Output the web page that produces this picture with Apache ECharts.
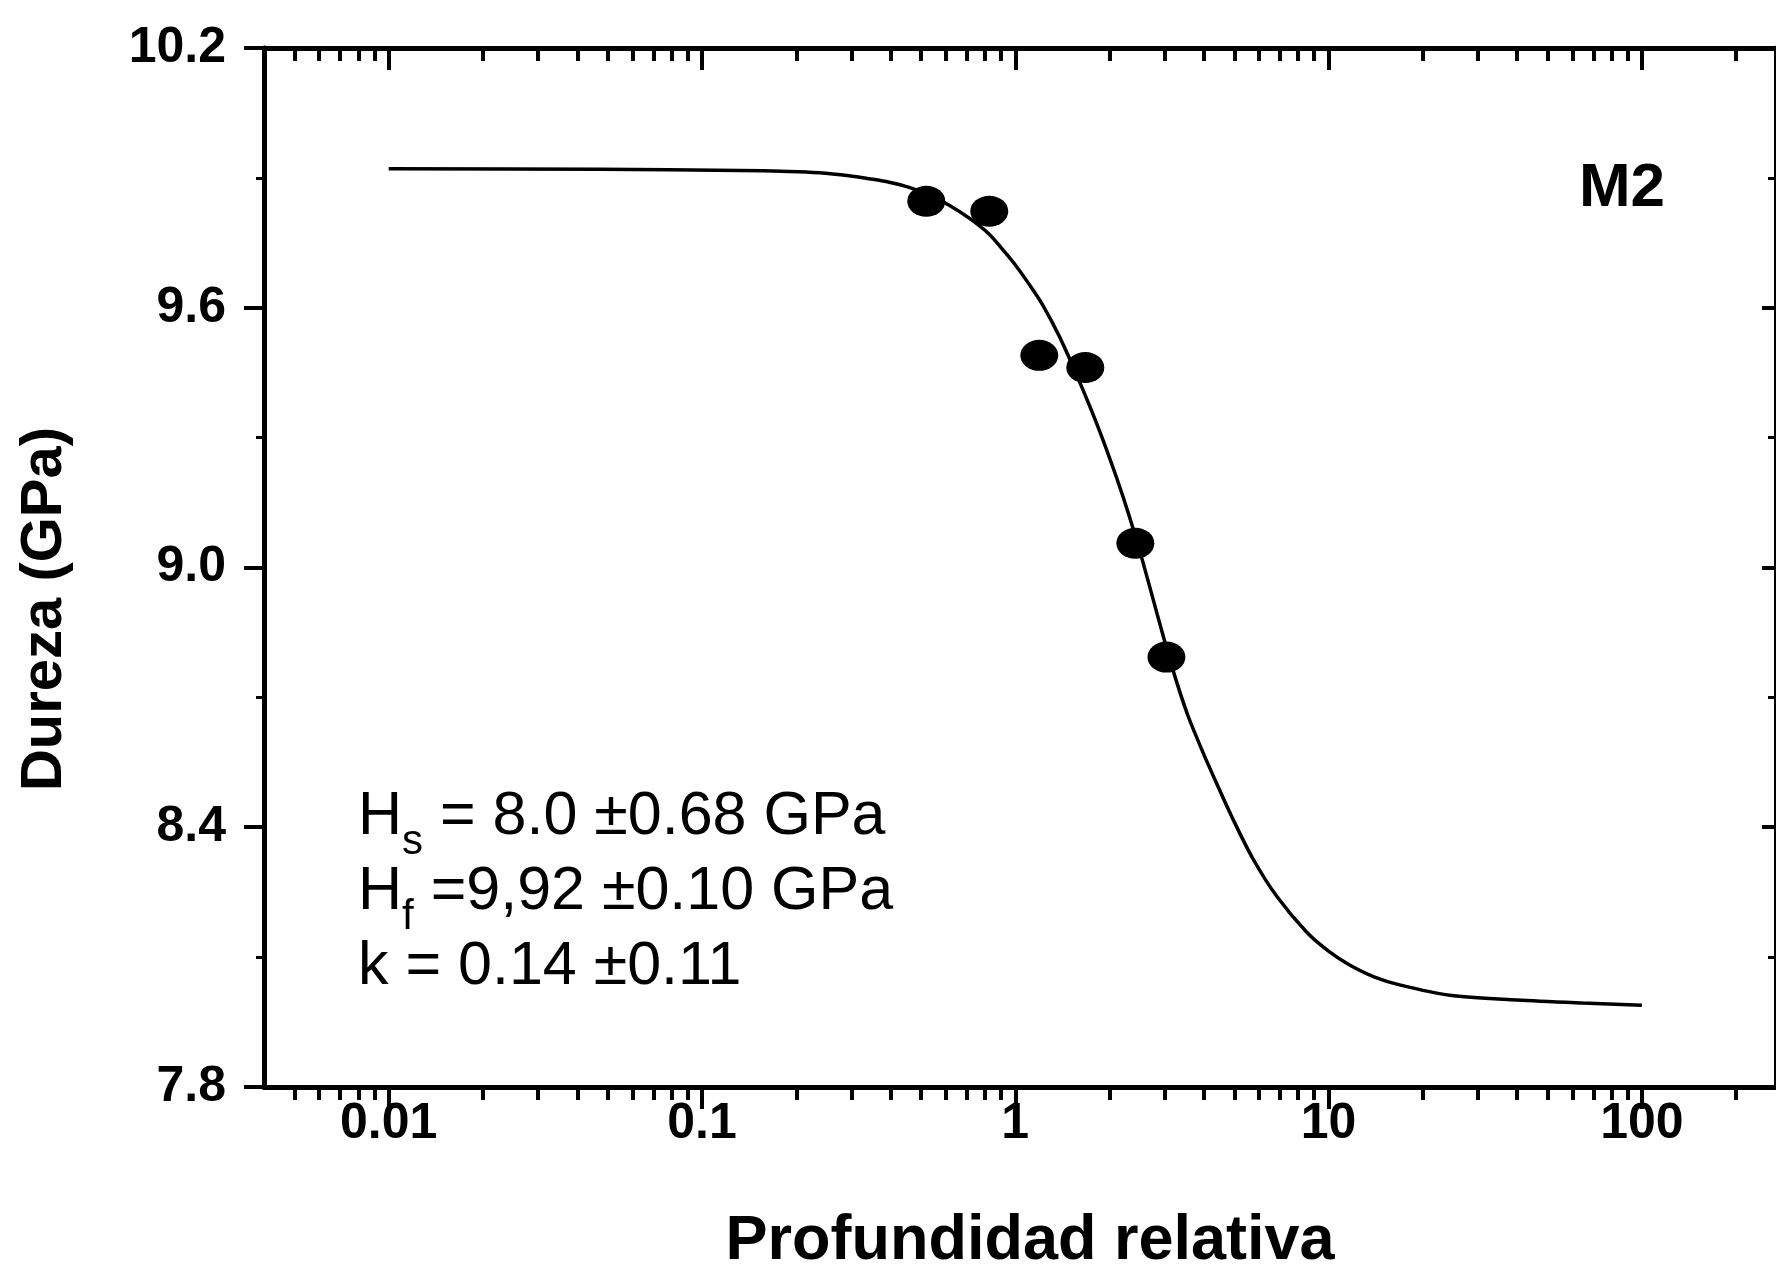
<!DOCTYPE html>
<html><head><meta charset="utf-8">
<script src="https://cdn.jsdelivr.net/npm/echarts@6/dist/echarts.min.js"></script>
<style>html,body{margin:0;padding:0;background:#fff}#c{width:1776px;height:1271px}</style>
</head><body><div id="c"></div><script>
// Measured points
const depthPoints = [0.52, 0.826, 1.193, 1.673, 2.417, 3.037];
const hardnessPoints = [9.846, 9.823, 9.490, 9.462, 9.056, 8.793];
// Fitted curve
const fitDepth = [0.01, 0.0469, 0.1313, 0.1897, 0.2364, 0.2948, 0.3416, 0.3958, 0.4585, 0.5312, 0.6152, 0.7129, 0.8259, 0.9224, 1.0074, 1.108, 1.220, 1.382, 1.602, 1.855, 2.102, 2.313, 2.545, 2.843, 3.175, 3.544, 3.957, 4.419, 4.935, 5.718, 6.823, 8.505, 10.07, 11.67, 14.03, 16.86, 24.36, 39.87, 64.8, 100];
const fitHardness = [9.921, 9.920, 9.917, 9.915, 9.912, 9.905, 9.898, 9.890, 9.878, 9.860, 9.837, 9.807, 9.770, 9.730, 9.696, 9.654, 9.608, 9.534, 9.430, 9.317, 9.209, 9.118, 9.017, 8.890, 8.767, 8.661, 8.576, 8.497, 8.421, 8.329, 8.241, 8.158, 8.112, 8.082, 8.054, 8.036, 8.012, 8.001, 7.994, 7.989];
// Axis ticks
const xMajorTicks = [0.01, 0.1, 1, 10, 100];
const xMinorMultipliers = [2, 3, 4, 5, 6, 7, 8, 9];
const yTicks = [7.8, 8.4, 9.0, 9.6, 10.2];
const annotationLines = [
  ['H', 's', ' = 8.0 \u00b10.68 GPa'],
  ['H', 'f', ' =9,92 \u00b10.10 GPa'],
  ['k = 0.14 \u00b10.11', '', '']
];
const panelLabel = 'M2';
const xTitle = 'Profundidad relativa';
const yTitle = 'Dureza (GPa)';

const X_MIN = 0.004, X_MAX = 268;
const xMinorTicks = [];
[0.001, 0.01, 0.1, 1, 10, 100].forEach(d => xMinorMultipliers.forEach(m => {
  const v = +(d * m).toPrecision(3);
  if (v > X_MIN && v < X_MAX && xMajorTicks.indexOf(v) < 0) xMinorTicks.push(v);
}));

const FONT = "'Liberation Sans', Arial, sans-serif";
const AX = {color: '#000', width: 5};

function xAxisDef(position, ticks, len, inside, withLine, withLabels) {
  return {
    type: 'log', logBase: 10, min: X_MIN, max: X_MAX, position: position, gridIndex: 0,
    axisLine: {show: withLine, lineStyle: AX},
    axisTick: {show: true, inside: inside, length: len, customValues: ticks, lineStyle: {color: '#000', width: 4}},
    axisLabel: withLabels ? {
      show: true, customValues: xMajorTicks, margin: 12, color: '#000', fontFamily: FONT, fontWeight: 'bold', fontSize: 50,
      formatter: v => String(+(+v).toPrecision(3))
    } : {show: false},
    splitLine: {show: false}, minorTick: {show: false}, minorSplitLine: {show: false}
  };
}

const chart = echarts.init(document.getElementById('c'), null, {renderer: 'canvas'});
const textBase = {fontFamily: FONT, fill: '#000'};

const graphics = [
  {type: 'text', x: 45, y: 609, rotation: Math.PI / 2,
   style: Object.assign({text: yTitle, fontSize: 58, fontWeight: 'bold', align: 'center', verticalAlign: 'middle'}, textBase)},
  {type: 'text', x: 1030, y: 1242,
   style: Object.assign({text: xTitle, fontSize: 63, fontWeight: 'bold', align: 'center', verticalAlign: 'middle'}, textBase)},
  {type: 'text', x: 1622, y: 189,
   style: Object.assign({text: panelLabel, fontSize: 62, fontWeight: 'bold', align: 'center', verticalAlign: 'middle'}, textBase)}
];
const lineY = [825, 900, 975];
annotationLines.forEach((parts, i) => {
  let txt = '{m|' + parts[0] + '}';
  if (parts[1]) txt += '{s|' + parts[1] + '}';
  if (parts[2]) txt += '{m|' + parts[2] + '}';
  graphics.push({type: 'text', x: 358, y: lineY[i],
    style: Object.assign({text: txt, align: 'left', verticalAlign: 'middle',
      rich: {
        m: {fontFamily: FONT, fontSize: 61, lineHeight: 76, color: '#000', verticalAlign: 'top'},
        s: {fontFamily: FONT, fontSize: 42, lineHeight: 40, color: '#000', verticalAlign: 'bottom'}
      }}, textBase)});
});

chart.setOption({
  backgroundColor: '#fff',
  animation: false,
  grid: {left: 264, right: 0, top: 48, bottom: 184, containLabel: false},
  xAxis: [
    xAxisDef('bottom', xMajorTicks, 22, false, true, true),
    xAxisDef('bottom', xMinorTicks, 13, false, false, false),
    xAxisDef('top', xMajorTicks, 22, true, true, false),
    xAxisDef('top', xMinorTicks, 13, true, false, false)
  ],
  yAxis: [
    {type: 'value', position: 'left', min: 7.8, max: 10.2, interval: 0.6,
     axisLine: {show: true, lineStyle: AX},
     axisTick: {show: true, inside: false, length: 20, lineStyle: {color: '#000', width: 4}},
     minorTick: {show: true, splitNumber: 2, length: 8, lineStyle: {color: '#000', width: 3}},
     axisLabel: {margin: 38, color: '#000', fontFamily: FONT, fontWeight: 'bold', fontSize: 50,
       formatter: v => yTicks.some(t => Math.abs(t - v) < 1e-6) ? (+v).toFixed(1) : ''},
     splitLine: {show: false}},
    {type: 'value', position: 'right', min: 7.8, max: 10.2, interval: 0.6,
     axisLine: {show: true, lineStyle: AX},
     axisTick: {show: true, inside: true, length: 14, lineStyle: {color: '#000', width: 4}},
     minorTick: {show: true, splitNumber: 2, length: 8, lineStyle: {color: '#000', width: 3}},
     axisLabel: {show: false}, splitLine: {show: false}}
  ],
  series: [
    {type: 'line', name: 'Ajuste', xAxisIndex: 0, yAxisIndex: 0,
     data: fitDepth.map((d, i) => [d, fitHardness[i]]),
     showSymbol: false, smooth: 0.3, lineStyle: {color: '#000', width: 3.5}, z: 3},
    {type: 'scatter', name: 'Datos', xAxisIndex: 0, yAxisIndex: 0,
     data: depthPoints.map((d, i) => [d, hardnessPoints[i]]),
     symbol: 'circle', symbolSize: [38, 31], itemStyle: {color: '#000', opacity: 1}, z: 4}
  ],
  graphic: graphics
});
</script></body></html>
